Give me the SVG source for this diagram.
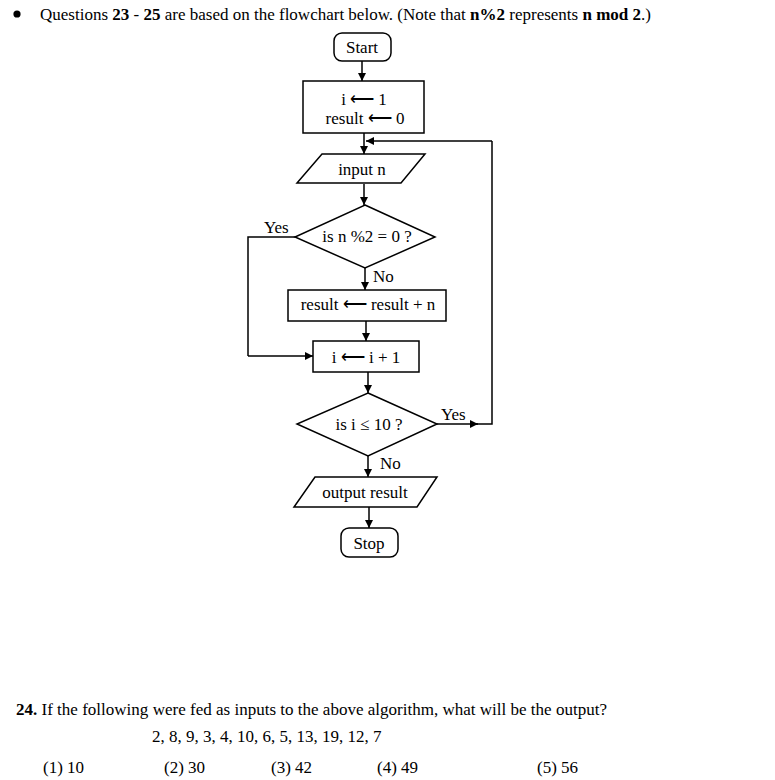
<svg xmlns="http://www.w3.org/2000/svg" width="775" height="780" viewBox="0 0 775 780">
<defs>
<marker id="ah" viewBox="0 0 10 10" refX="10" refY="5" markerWidth="8" markerHeight="8" markerUnits="userSpaceOnUse" orient="auto">
<path d="M0,0 L10,5 L0,10 Z" fill="#000"/>
</marker>
</defs>
<style>
text{font-family:"Liberation Serif","Times New Roman",serif;fill:#000}
.t{font-size:17px}
.n{font-size:17px;text-anchor:middle}
.lb{font-size:17px}
.shape{fill:#fff;stroke:#000;stroke-width:1.5}
.c{fill:none;stroke:#000;stroke-width:1.5}
.ca{fill:none;stroke:#000;stroke-width:1.5;marker-end:url(#ah)}
</style>
<rect width="775" height="780" fill="#fff"/>
<circle cx="17" cy="14" r="3.6" fill="#000"/>
<text class="t" x="40" y="20" textLength="611" lengthAdjust="spacingAndGlyphs">Questions <tspan font-weight="bold">23</tspan> - <tspan font-weight="bold">25</tspan> are based on the flowchart below. (Note that <tspan font-weight="bold">n%2</tspan> represents <tspan font-weight="bold">n mod 2</tspan>.)</text>

<g id="connectors">
<path class="ca" d="M362,61 V81"/>
<path class="ca" d="M364,133 V154"/>
<path class="ca" d="M364,184 V205"/>
<path class="ca" d="M365,268 V290"/>
<path class="ca" d="M366,321 V341"/>
<path class="c" d="M295,237 H248 V356"/>
<path class="ca" d="M248,356 H313"/>
<path class="ca" d="M368,372 V393"/>
<path class="ca" d="M437,424 H478"/>
<path class="c" d="M476,424 H492 V141"/>
<path class="ca" d="M492,141 H366"/>
<path class="ca" d="M368,456 V477"/>
<path class="ca" d="M369,507 V528"/>
<text class="lb" x="264" y="233">Yes</text>
<text class="lb" x="373" y="282">No</text>
<text class="lb" x="441" y="420">Yes</text>
<text class="lb" x="380" y="469">No</text>
</g>

<g id="start">
<rect class="shape" x="334" y="33" width="57" height="28" rx="8"/>
<text class="n" x="362" y="53">Start</text>
</g>
<g id="init">
<rect class="shape" x="303" y="81" width="121" height="52"/>
<text class="n" x="364" y="105">i ⟵ 1</text>
<text class="n" x="365" y="124">result ⟵ 0</text>
</g>
<g id="input">
<polygon class="shape" points="322,154 425,154 401,183 297,183"/>
<text class="n" x="362" y="175">input n</text>
</g>
<g id="dec1">
<polygon class="shape" points="365,205 435,237 365,268 295,237"/>
<text class="n" x="367" y="242">is n %2 = 0 ?</text>
</g>
<g id="add">
<rect class="shape" x="288" y="290" width="158" height="31"/>
<text class="n" x="368" y="310">result ⟵ result + n</text>
</g>
<g id="inc">
<rect class="shape" x="313" y="341" width="106" height="31"/>
<text class="n" x="366" y="363">i ⟵ i + 1</text>
</g>
<g id="dec2">
<polygon class="shape" points="368,393 437,424 368,456 297,424"/>
<text class="n" x="369" y="430">is i ≤ 10 ?</text>
</g>
<g id="output">
<polygon class="shape" points="315,477 437,477 417,507 294,507"/>
<text class="n" x="365" y="498">output result</text>
</g>
<g id="stop">
<rect class="shape" x="341" y="528" width="57" height="29" rx="8"/>
<text class="n" x="369" y="549">Stop</text>
</g>

<text class="t" x="16" y="715" textLength="591" lengthAdjust="spacingAndGlyphs"><tspan font-weight="bold">24.</tspan> If the following were fed as inputs to the above algorithm, what will be the output?</text>
<text class="t" x="152" y="742">2, 8, 9, 3, 4, 10, 6, 5, 13, 19, 12, 7</text>
<text class="t" x="43" y="773">(1) 10</text>
<text class="t" x="164" y="773">(2) 30</text>
<text class="t" x="271" y="773">(3) 42</text>
<text class="t" x="377" y="773">(4) 49</text>
<text class="t" x="537" y="773">(5) 56</text>
</svg>
